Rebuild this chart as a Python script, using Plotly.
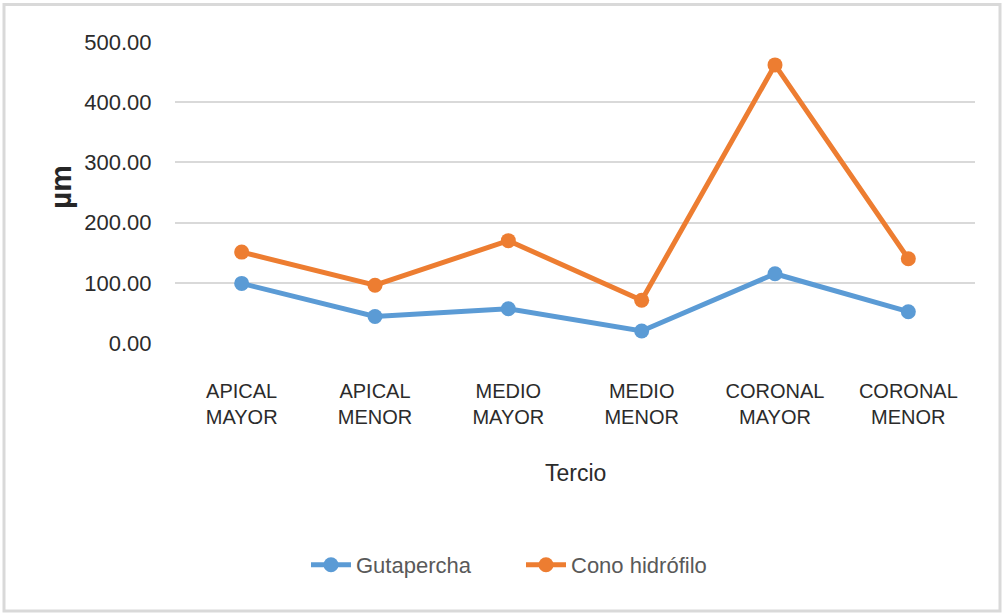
import plotly.graph_objects as go

categories = ["APICAL<br>MAYOR", "APICAL<br>MENOR", "MEDIO<br>MAYOR", "MEDIO<br>MENOR", "CORONAL<br>MAYOR", "CORONAL<br>MENOR"]
gutapercha = [99, 44, 57, 20, 115, 52]
cono_hidrofilo = [151, 96, 170, 71, 462, 140]
y_ticks = [0, 100, 200, 300, 400, 500]
y_tick_labels = ["0.00", "100.00", "200.00", "300.00", "400.00", "500.00"]

FONT = "Liberation Sans, Arial"
BLUE = "#5B9BD5"
ORANGE = "#ED7D31"

fig = go.Figure()
fig.add_trace(go.Scatter(x=categories, y=gutapercha, name="Gutapercha", mode="lines+markers",
                         line=dict(color=BLUE, width=5), marker=dict(size=15, color=BLUE)))
fig.add_trace(go.Scatter(x=categories, y=cono_hidrofilo, name="Cono hidrófilo", mode="lines+markers",
                         line=dict(color=ORANGE, width=5), marker=dict(size=15, color=ORANGE)))

L, R, T, B = 175, 27, 42, 272
W, H = 1002, 615
pw, ph = W - L - R, H - T - B

def px(x):
    return (x - L) / pw

def py(y):
    return (H - B - y) / ph

fig.update_layout(
    width=W, height=H,
    margin=dict(l=L, r=R, t=T, b=B, autoexpand=False),
    paper_bgcolor="white", plot_bgcolor="white",
    font=dict(family=FONT, color="#2b2b2b"),
    showlegend=True,
    legend=dict(orientation="h", x=px(306), xanchor="left", y=py(565), yanchor="middle",
                font=dict(size=22, color="#595959", family=FONT),
                entrywidth=160, entrywidthmode="pixels", itemwidth=40,
                bgcolor="rgba(0,0,0,0)"),
    xaxis=dict(type="category", range=[-0.5, 5.5], showgrid=False, showline=False, zeroline=False,
               tickfont=dict(size=20, color="#2b2b2b", family=FONT),
               ticks="outside", ticklen=30, tickcolor="rgba(0,0,0,0)", automargin=False),
    yaxis=dict(range=[0, 500], tickvals=y_ticks, ticktext=y_tick_labels,
               showgrid=True, gridcolor="#d9d9d9", gridwidth=1.5, zeroline=False, showline=False,
               tickfont=dict(size=22, color="#2b2b2b", family=FONT),
               ticks="outside", ticklen=18, tickcolor="rgba(0,0,0,0)", automargin=False),
    annotations=[
        dict(text="<b>µm</b>", x=px(60), y=py(187), xref="paper", yref="paper", showarrow=False,
             textangle=-90, font=dict(size=30, color="#262626", family=FONT),
             xanchor="center", yanchor="middle"),
        dict(text="Tercio", x=px(575), y=py(473), xref="paper", yref="paper", showarrow=False,
             font=dict(size=23, color="#2b2b2b", family=FONT), xanchor="center", yanchor="middle"),
    ],
    shapes=[
        dict(type="rect", xref="paper", yref="paper", x0=px(4), x1=px(1000), y0=py(611), y1=py(4.5),
             line=dict(color="#d9d9d9", width=3), fillcolor="rgba(0,0,0,0)", layer="below"),
    ],
)

fig.write_html("out.html", config={"displayModeBar": False},
               post_script="document.body.style.margin='0';")
